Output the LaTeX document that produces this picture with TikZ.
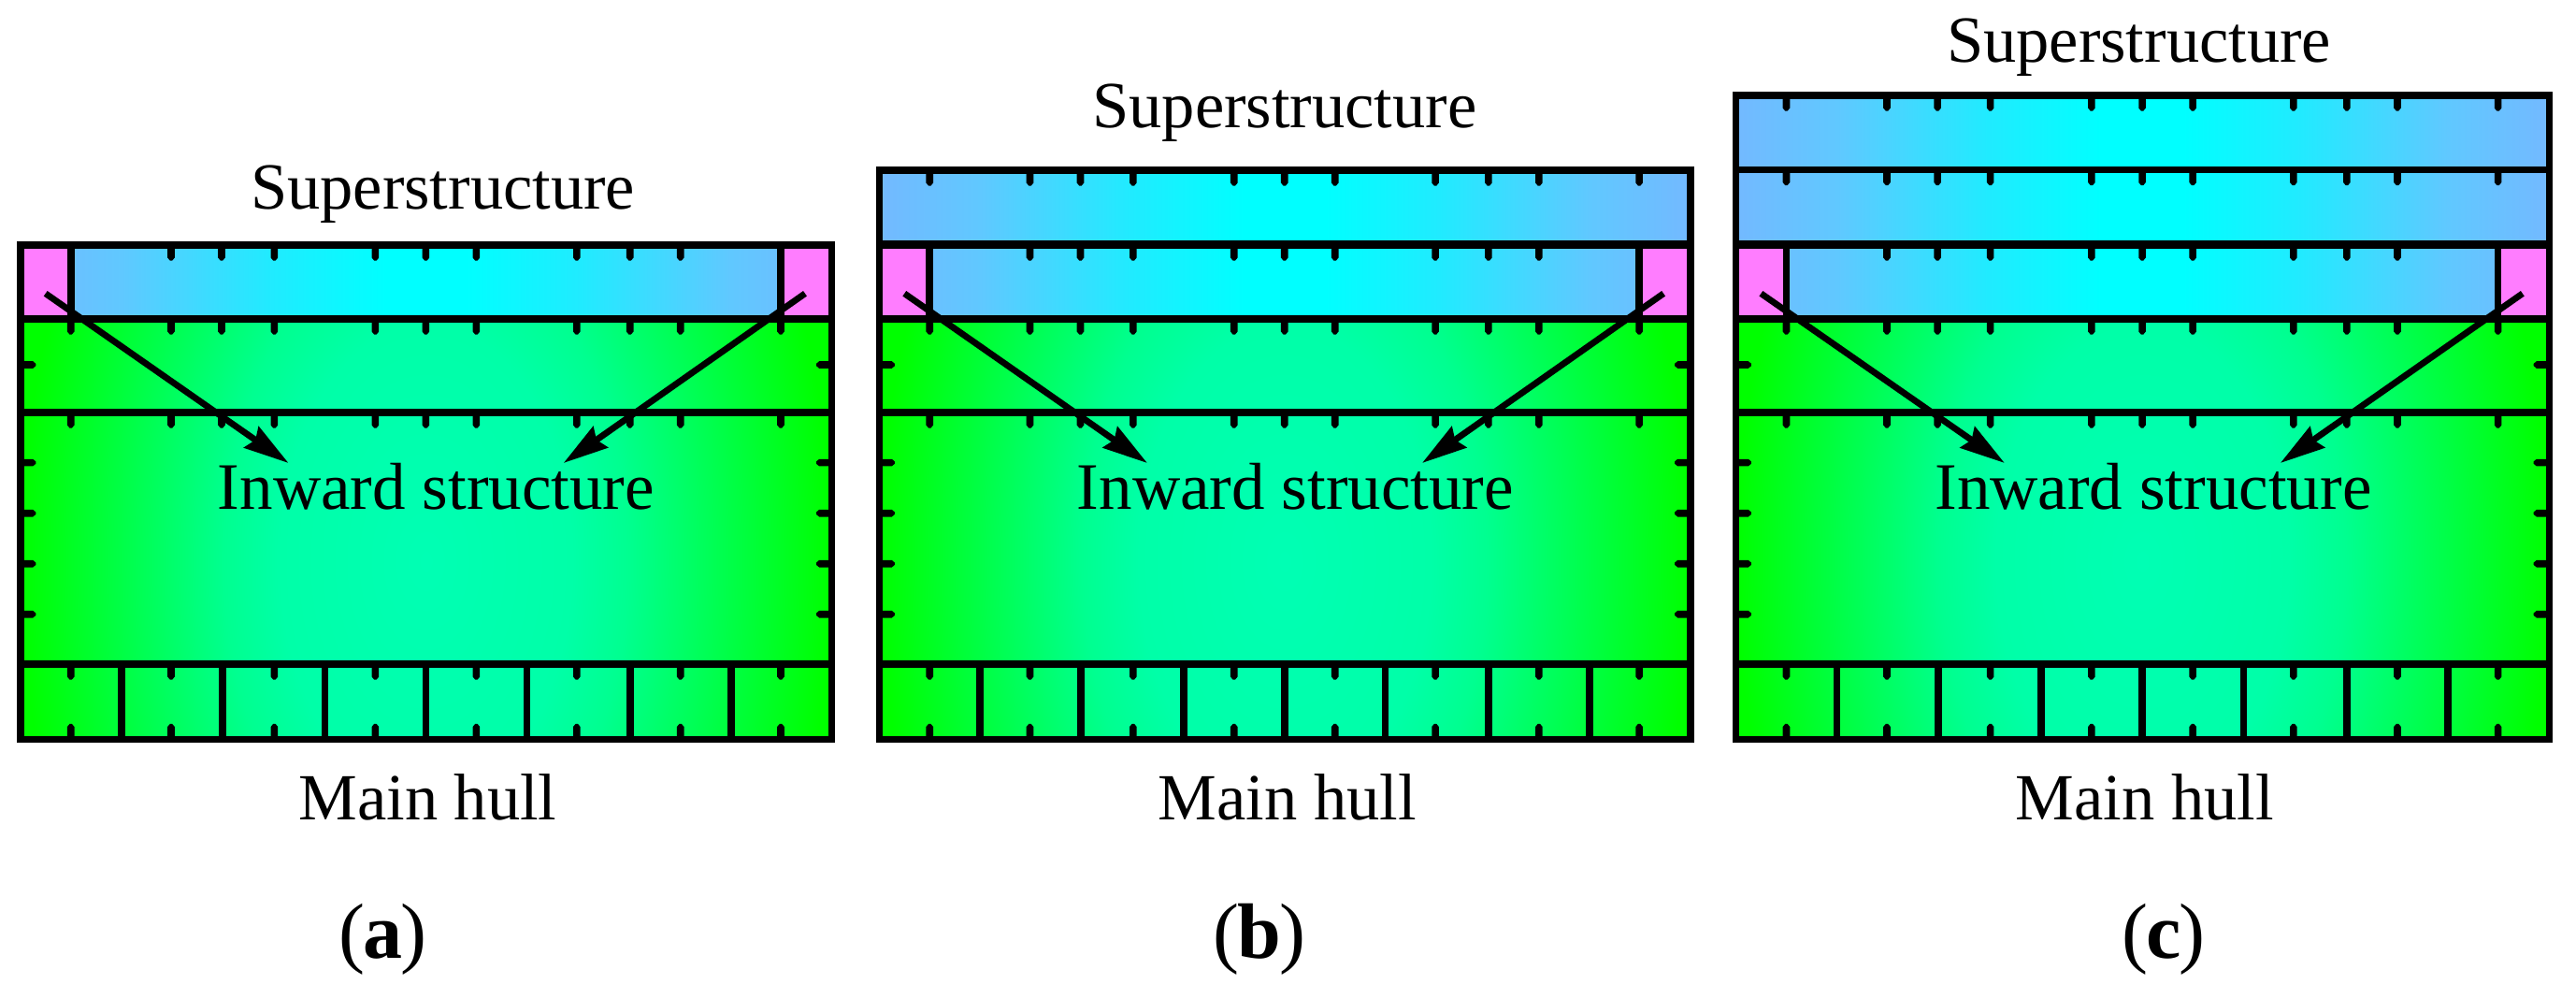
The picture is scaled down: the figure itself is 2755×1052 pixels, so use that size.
\documentclass[tikz,border=0pt]{standalone}
\usepackage{fontspec}
\setmainfont{Liberation Serif}
\usetikzlibrary{arrows.meta}
\definecolor{pinkcell}{HTML}{FF7DFF}
\definecolor{sg0}{HTML}{73B9FF}
\definecolor{sg1}{HTML}{60C8FF}
\definecolor{sg2}{HTML}{20EBFF}
\definecolor{sg3}{HTML}{00FFFF}
\pgfdeclarehorizontalshading{supgrad}{100bp}{
  color(0bp)=(sg0);
  color(25bp)=(sg0);
  color(31.25bp)=(sg1);
  color(40.5bp)=(sg2);
  color(47.5bp)=(sg3);
  color(52.5bp)=(sg3);
  color(59.5bp)=(sg2);
  color(68.75bp)=(sg1);
  color(75bp)=(sg0);
  color(100bp)=(sg0)}
\definecolor{hg0}{HTML}{00FFB4}
\definecolor{hg1}{HTML}{00FFA8}
\definecolor{hg2}{HTML}{00FF90}
\definecolor{hg3}{HTML}{00FF48}
\definecolor{hg4}{HTML}{00FF00}
\pgfdeclareradialshading{hullgrad}{\pgfpoint{0bp}{0bp}}{
  color(0bp)=(hg0); color(9bp)=(hg1); color(12.5bp)=(hg2);
  color(18.75bp)=(hg3); color(25bp)=(hg4); color(50bp)=(hg4)}
\tikzset{
  x=1pt,y=-1pt,
  line/.style={line width=7.6pt,line cap=butt,black},
  frame/.style={line width=7.6pt,line join=miter,black},
  pointer/.style={line width=6.8pt,black,-{Stealth[length=48pt,width=27pt,inset=5pt]}},
  label/.style={inner sep=0pt,anchor=base,font=\fontsize{70.5}{80}\selectfont},
  inlabel/.style={inner sep=0pt,anchor=base,font=\fontsize{71}{80}\selectfont},
  caption/.style={inner sep=0pt,anchor=base,font=\fontsize{84}{90}\selectfont},
  tick/.pic={\fill[black] (-3.8,0)--(-3.8,13.5)--(-1.2,16.6)--(1.2,16.6)--(3.8,13.5)--(3.8,0)--cycle;}
}
% one superstructure row on top of the base section
\newcommand\uprow[4]{%
  \begin{scope}[shift={(#1,0)},xscale=#2]
    \shade[shading=supgrad] (21.7,#3) rectangle (889.6,#4);
    \draw[frame] (21.7,#3) rectangle (889.6,#4);
    \foreach \tx in {75.7,183,237,293.4,401.4,455.4,509.4,616.8,673.7,727.7,835}
      \pic at (\tx,#3) {tick};
  \end{scope}}
\newcommand\hullpanel[9]{%
  \begin{scope}[shift={(#2,0)},xscale=#3]
    \begin{scope}
      \clip (21.7,341) rectangle (889.6,790.5);
      \shade[shading=hullgrad] (21.7,-100) rectangle (889.6,1300);
    \end{scope}
    \shade[shading=supgrad] (21.7,262) rectangle (889.6,341);
    \fill[pinkcell] (21.7,262) rectangle (75.7,341);
    \fill[pinkcell] (835,262) rectangle (889.6,341);
    \draw[frame] (21.7,262) rectangle (889.6,790.5);
    \foreach \ly in {341,441,710} \draw[line] (21.7,\ly) -- (889.6,\ly);
    \foreach \vx in {75.7,835} \draw[line] (\vx,262) -- (\vx,341);
    \foreach \vx in {129.7,237.7,347.4,455.4,563.4,673.7,781.7} \draw[line] (\vx,710) -- (\vx,790.5);
    \foreach \tx in {183,237,293.4,401.4,455.4,509.4,616.8,673.7,727.7} \pic at (\tx,262) {tick};
    \foreach \ly in {341,441} \foreach \tx in {75.7,183,237,293.4,401.4,455.4,509.4,616.8,673.7,727.7,835} \pic at (\tx,\ly) {tick};
    \foreach \tx in {75.7,183,293.4,401.4,509.4,616.8,727.7,835} {
      \pic at (\tx,710) {tick};
      \pic[rotate=180] at (\tx,790.5) {tick};}
    \foreach \ty in {390,494.6,548.7,602.7,656.7} {
      \pic[rotate=90] at (21.7,\ty) {tick};
      \pic[rotate=-90] at (889.6,\ty) {tick};}
    \coordinate (#1-ls) at (48.7,313.8);
    \coordinate (#1-lt) at (308.5,495);
    \coordinate (#1-rs) at (861,313.8);
    \coordinate (#1-rt) at (602.7,495);
    \draw[pointer] (#1-ls) -- (#1-lt);
    \draw[pointer] (#1-rs) -- (#1-rt);
  \end{scope}
  \node[label] (#1-sup) at (#4,#5) {Superstructure};
  \node[inlabel] (#1-inw) at (#6,544) {Inward structure};
  \node[label] (#1-main) at (#7,876) {Main hull};
  \node[caption] (#1-cap) at (#8,1024) {(\kern-2pt\textbf{#9}\kern-2pt)};
}
\begin{document}
\begin{tikzpicture}
  \useasboundingbox (0,0) rectangle (2755,1052);
  \fill[white] (0,0) rectangle (2755,1052);
  \hullpanel{a}{0}{1}{473.6}{223.6}{466.5}{457.5}{409.8}{a}
  \uprow{918.61}{0.9994}{182}{261}
  \hullpanel{b}{918.61}{0.9994}{1374}{136.7}{1385.5}{1376.7}{1346.8}{b}
  \uprow{1834.55}{1.0024}{102}{181.5}
  \uprow{1834.55}{1.0024}{181.5}{261}
  \hullpanel{c}{1834.55}{1.0024}{2287.6}{66.7}{2303}{2293.8}{2314}{c}
\end{tikzpicture}
\end{document}
